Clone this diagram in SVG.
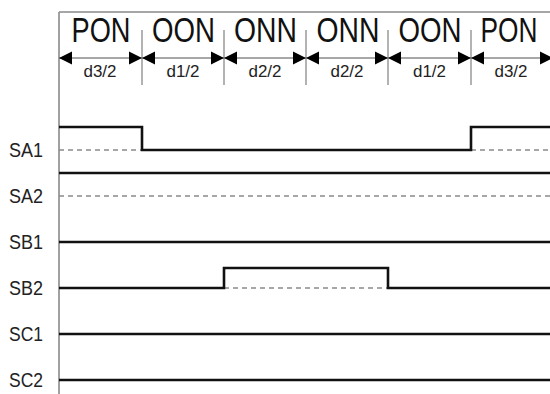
<svg xmlns="http://www.w3.org/2000/svg" width="550" height="394" viewBox="0 0 550 394">
<style>
.frame{stroke:#8a8a8a;stroke-width:1.6;fill:none}
.div{stroke:#8a8a8a;stroke-width:1.3}
.dim{stroke:#8a8a8a;stroke-width:1.3}
.sig{stroke:#111;stroke-width:2.6;fill:none;stroke-linejoin:miter}
.dash{stroke:#8a8a8a;stroke-width:1.3;stroke-dasharray:5 4;fill:none}
.big{font-family:"Liberation Sans",Arial,sans-serif;font-size:35px;fill:#111;text-anchor:middle}
.small{font-family:"Liberation Sans",Arial,sans-serif;font-size:16px;fill:#222;text-anchor:middle}
.lab{font-family:"Liberation Sans",Arial,sans-serif;font-size:20px;fill:#222}
.ah{fill:#000}
</style>
<g id="frame">
<line class="frame" x1="59" y1="12" x2="550" y2="12"/>
<line class="frame" x1="59" y1="12" x2="59" y2="394"/>
</g>
<g id="header">
<line class="div" x1="142" y1="30" x2="142" y2="85"/>
<line class="div" x1="224" y1="30" x2="224" y2="85"/>
<line class="div" x1="306" y1="30" x2="306" y2="85"/>
<line class="div" x1="388" y1="30" x2="388" y2="85"/>
<line class="div" x1="471" y1="30" x2="471" y2="85"/>
<line class="dim" x1="59" y1="58" x2="550" y2="58"/>
<g class="ah">
<polygon points="59,58 72,51.5 72,64.5"/>
<polygon points="142,58 129,51.5 129,64.5"/>
<polygon points="142,58 155,51.5 155,64.5"/>
<polygon points="224,58 211,51.5 211,64.5"/>
<polygon points="224,58 237,51.5 237,64.5"/>
<polygon points="306,58 293,51.5 293,64.5"/>
<polygon points="306,58 319,51.5 319,64.5"/>
<polygon points="388,58 375,51.5 375,64.5"/>
<polygon points="388,58 401,51.5 401,64.5"/>
<polygon points="471,58 458,51.5 458,64.5"/>
<polygon points="471,58 484,51.5 484,64.5"/>
<polygon points="553,58 540,51.5 540,64.5"/>
</g>
<text class="big" x="101" y="42" textLength="59" lengthAdjust="spacingAndGlyphs">PON</text>
<text class="big" x="183.5" y="42" textLength="63" lengthAdjust="spacingAndGlyphs">OON</text>
<text class="big" x="265.5" y="42" textLength="63" lengthAdjust="spacingAndGlyphs">ONN</text>
<text class="big" x="348" y="42" textLength="63" lengthAdjust="spacingAndGlyphs">ONN</text>
<text class="big" x="430" y="42" textLength="63" lengthAdjust="spacingAndGlyphs">OON</text>
<text class="big" x="509" y="42" textLength="57" lengthAdjust="spacingAndGlyphs">PON</text>
<text class="small" x="100" y="77" textLength="33" lengthAdjust="spacingAndGlyphs">d3/2</text>
<text class="small" x="183" y="77" textLength="33" lengthAdjust="spacingAndGlyphs">d1/2</text>
<text class="small" x="265" y="77" textLength="33" lengthAdjust="spacingAndGlyphs">d2/2</text>
<text class="small" x="347" y="77" textLength="33" lengthAdjust="spacingAndGlyphs">d2/2</text>
<text class="small" x="429.5" y="77" textLength="33" lengthAdjust="spacingAndGlyphs">d1/2</text>
<text class="small" x="511" y="77" textLength="33" lengthAdjust="spacingAndGlyphs">d3/2</text>
</g>
<g id="SA1">
<text class="lab" x="9" y="157" textLength="34" lengthAdjust="spacingAndGlyphs">SA1</text>
<line class="dash" x1="59" y1="150" x2="142" y2="150"/>
<line class="dash" x1="471" y1="150" x2="550" y2="150"/>
<polyline class="sig" points="59,127 142,127 142,150 471,150 471,127 550,127"/>
</g>
<g id="SA2">
<text class="lab" x="9" y="203" textLength="34" lengthAdjust="spacingAndGlyphs">SA2</text>
<line class="dash" x1="59" y1="196" x2="550" y2="196"/>
<line class="sig" x1="59" y1="173" x2="550" y2="173"/>
</g>
<g id="SB1">
<text class="lab" x="9" y="249" textLength="34" lengthAdjust="spacingAndGlyphs">SB1</text>
<line class="sig" x1="59" y1="242" x2="550" y2="242"/>
</g>
<g id="SB2">
<text class="lab" x="9" y="295" textLength="34" lengthAdjust="spacingAndGlyphs">SB2</text>
<line class="dash" x1="224" y1="288" x2="388" y2="288"/>
<polyline class="sig" points="59,288 224,288 224,268 388,268 388,288 550,288"/>
</g>
<g id="SC1">
<text class="lab" x="9" y="341" textLength="34" lengthAdjust="spacingAndGlyphs">SC1</text>
<line class="sig" x1="59" y1="334" x2="550" y2="334"/>
</g>
<g id="SC2">
<text class="lab" x="9" y="387" textLength="34" lengthAdjust="spacingAndGlyphs">SC2</text>
<line class="sig" x1="59" y1="380" x2="550" y2="380"/>
</g>
</svg>
